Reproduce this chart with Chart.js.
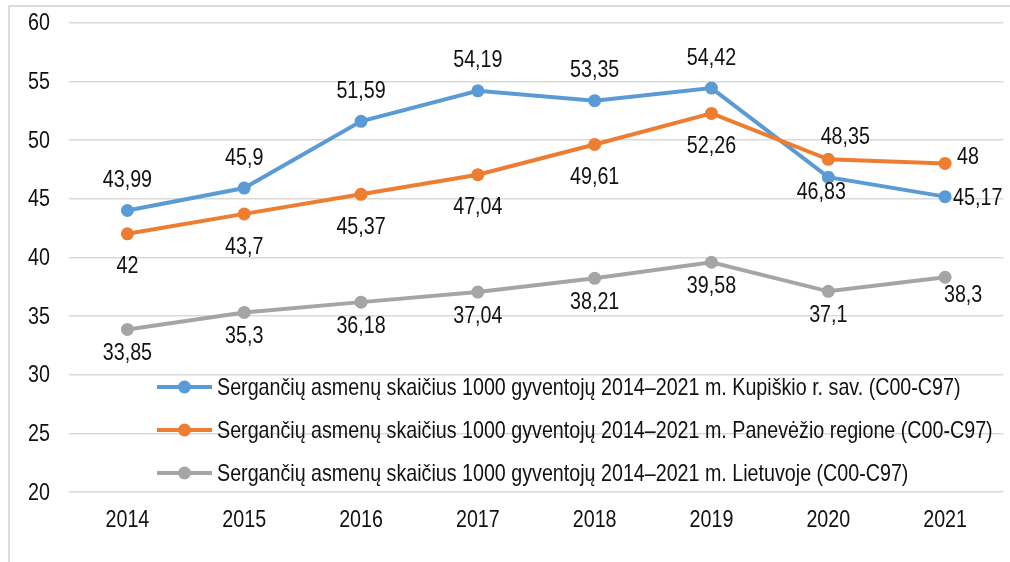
<!DOCTYPE html>
<html>
<head>
<meta charset="utf-8">
<script src="https://cdn.jsdelivr.net/npm/chart.js@4"></script>
<style>
  html, body { margin: 0; padding: 0; background: #fff; overflow: hidden; }
  #frame { position: absolute; left: 8px; top: 5px; width: 1010px; height: 600px;
           border-left: 2px solid #dcdcdc; border-top: 2px solid #dcdcdc; }
  #c { position: absolute; left: 0; top: 0; }
</style>
</head>
<body>
<div id="frame"></div>
<canvas id="c" width="1010" height="562"></canvas>
<script>
// ---- data ----
const years = ['2014', '2015', '2016', '2017', '2018', '2019', '2020', '2021'];
const kupiskis = [43.99, 45.9, 51.59, 54.19, 53.35, 54.42, 46.83, 45.17];
const panevezys = [42, 43.7, 45.37, 47.04, 49.61, 52.26, 48.35, 48];
const lietuva = [33.85, 35.3, 36.18, 37.04, 38.21, 39.58, 37.1, 38.3];
const seriesNames = [
  'Sergančių asmenų skaičius 1000 gyventojų 2014–2021 m. Kupiškio r. sav. (C00-C97)',
  'Sergančių asmenų skaičius 1000 gyventojų 2014–2021 m. Panevėžio regione (C00-C97)',
  'Sergančių asmenų skaičius 1000 gyventojų 2014–2021 m. Lietuvoje (C00-C97)'
];
const yTicks = { min: 20, max: 60, step: 5 };

// ---- styles ----
const colors = ['#5B9BD5', '#ED7D31', '#A5A5A5'];
const FONT = "'Liberation Sans', Arial, sans-serif";
const FONT_SIZE = 24;
const NARROW = 0.82;           // horizontal squeeze to imitate a narrow face
const TEXT_COLOR = '#111';
// label placement per point: [dx, dy, align]
const A = [0, -30, 'center'], B = [0, 33, 'center'], G = [0, 24, 'center'];
const labelPlacement = [
  [A, A, A, A, A, A, [-7, 15, 'center'], [8, 2, 'left']],
  [B, B, B, B, B, B, [17, -22, 'center'], [12, -6, 'left']],
  [G, G, G, G, G, G, G, [18, 18, 'center']]
];

const fmt = v => String(v).replace('.', ',');

function narrowText(ctx, text, x, y, align) {
  ctx.save();
  ctx.translate(x, y);
  ctx.scale(NARROW, 1);
  ctx.font = FONT_SIZE + 'px ' + FONT;
  ctx.fillStyle = TEXT_COLOR;
  ctx.textAlign = align;
  ctx.textBaseline = 'middle';
  ctx.fillText(text, 0, 0);
  ctx.restore();
}

const ticksPlugin = {
  id: 'narrowTicks',
  afterDraw(chart) {
    const ctx = chart.ctx;
    const ys = chart.scales.y, xs = chart.scales.x;
    ys.ticks.forEach(t => {
      narrowText(ctx, String(t.value), ys.right - 19, ys.getPixelForValue(t.value) + 1, 'right');
    });
    xs.ticks.forEach((t, i) => {
      narrowText(ctx, chart.data.labels[i], xs.getPixelForTick(i), xs.top + 28, 'center');
    });
  }
};

const labelsPlugin = {
  id: 'valueLabels',
  afterDatasetsDraw(chart) {
    const ctx = chart.ctx;
    chart.data.datasets.forEach((ds, di) => {
      const meta = chart.getDatasetMeta(di);
      meta.data.forEach((pt, i) => {
        const p = labelPlacement[di][i];
        narrowText(ctx, fmt(ds.data[i]), pt.x + p[0], pt.y + p[1], p[2]);
      });
    });
  }
};

const legendPlugin = {
  id: 'innerLegend',
  afterDraw(chart) {
    const ctx = chart.ctx;
    const x0 = 157, x1 = 212, rows = [387, 430, 473];
    chart.data.datasets.forEach((ds, di) => {
      const y = rows[di];
      ctx.save();
      ctx.strokeStyle = ds.borderColor;
      ctx.lineWidth = 4;
      ctx.beginPath(); ctx.moveTo(x0, y); ctx.lineTo(x1, y); ctx.stroke();
      ctx.fillStyle = ds.borderColor;
      ctx.beginPath(); ctx.arc((x0 + x1) / 2, y, 6.5, 0, Math.PI * 2); ctx.fill();
      ctx.restore();
      narrowText(ctx, ds.label, 217, y + 1, 'left');
    });
  }
};

const mk = (label, data, color, order) => ({
  label, data, borderColor: color, backgroundColor: color,
  pointBackgroundColor: color, pointBorderColor: color, pointBorderWidth: 0,
  pointRadius: 6.5, borderWidth: 4, tension: 0, order
});

new Chart(document.getElementById('c'), {
  type: 'line',
  data: {
    labels: years,
    datasets: [
      mk(seriesNames[0], kupiskis, colors[0], 3),
      mk(seriesNames[1], panevezys, colors[1], 2),
      mk(seriesNames[2], lietuva, colors[2], 1)
    ]
  },
  options: {
    responsive: false,
    animation: false,
    layout: { padding: { left: 0, top: 22, right: 4, bottom: 0 } },
    plugins: { legend: { display: false }, tooltip: { enabled: false } },
    scales: {
      x: {
        offset: true,
        grid: { display: false, drawTicks: false },
        border: { display: false },
        ticks: { color: 'rgba(0,0,0,0)', font: { family: FONT, size: 6 }, padding: 14, maxRotation: 0, autoSkip: false },
        afterFit(axis) { axis.height = 70; }
      },
      y: {
        min: yTicks.min, max: yTicks.max,
        grid: { color: '#d9d9d9', lineWidth: 1.5, drawTicks: false },
        border: { display: false },
        ticks: { stepSize: yTicks.step, color: 'rgba(0,0,0,0)', font: { family: FONT, size: 6 }, padding: 19 },
        afterFit(axis) { axis.width = 69; }
      }
    }
  },
  plugins: [labelsPlugin, legendPlugin, ticksPlugin]
});
</script>
</body>
</html>
